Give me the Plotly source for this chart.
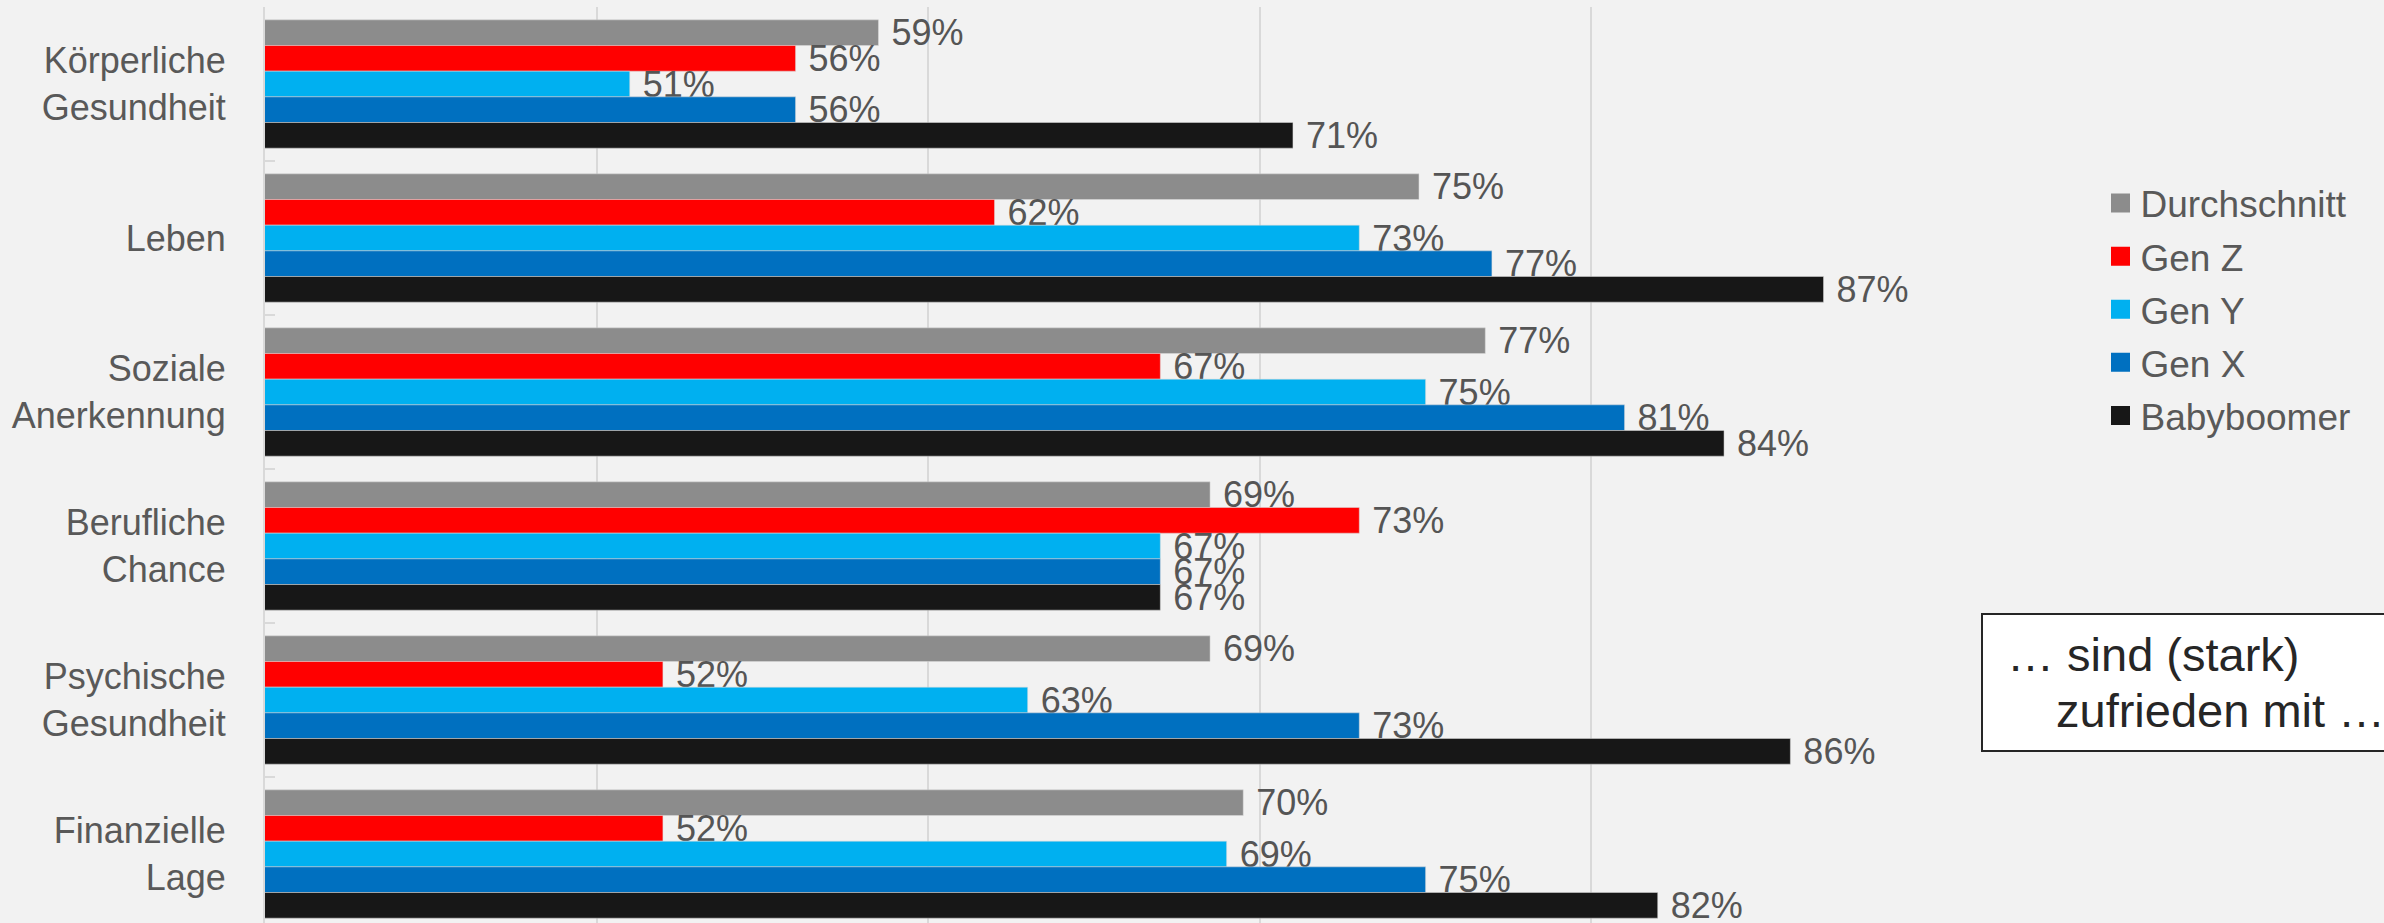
import plotly.graph_objects as go

categories = ["Körperliche<br>Gesundheit", "Leben", "Soziale<br>Anerkennung",
              "Berufliche<br>Chance", "Psychische<br>Gesundheit", "Finanzielle<br>Lage"]
series_names = ["Durchschnitt", "Gen Z", "Gen Y", "Gen X", "Babyboomer"]
durchschnitt = [58.5, 74.8, 76.8, 68.5, 68.5, 69.5]
gen_z = [56, 62, 67, 73, 52, 52]
gen_y = [51, 73, 75, 67, 63, 69]
gen_x = [56, 77, 81, 67, 73, 75]
babyboomer = [71, 87, 84, 67, 86, 82]
colors = ["#8c8c8c", "#ff0000", "#00b0f0", "#0070c0", "#171717"]
series_values = [durchschnitt, gen_z, gen_y, gen_x, babyboomer]

W, H = 2384, 923
L, R, T, B = 265, W - 1923, 7, 0
pw, ph = W - L - R, H - T - B

def px_x(x):
    return (x - L) / pw

def px_y(y):
    return (H - B - y) / ph

fig = go.Figure()
for name, vals, col in zip(series_names, series_values, colors):
    fig.add_trace(go.Bar(
        y=categories, x=vals, orientation="h", name=name,
        marker=dict(color=col, line=dict(color="rgba(220,220,220,0.5)", width=1)),
        text=["\u00a0" + f"{int(v + 0.5)}%" for v in vals],
        textposition="outside", constraintext="none", cliponaxis=False,
        textfont=dict(family="Liberation Sans, Arial, sans-serif", size=36, color="#555555"),
        showlegend=False, hoverinfo="skip",
    ))
# legend entries
for i, (name, col) in enumerate(zip(series_names, colors)):
    fig.add_trace(go.Scatter(
        x=[None], y=[None], mode="markers", name=name, legendgroup=f"g{i}",
        marker=dict(symbol="square", size=16, color=col, line=dict(color=col, width=3)),
        showlegend=True,
    ))

fig.update_layout(
    width=W, height=H,
    margin=dict(l=L, r=R, t=T, b=B, pad=0),
    paper_bgcolor="#f2f2f2", plot_bgcolor="#f2f2f2",
    barmode="group", bargap=1/6, bargroupgap=0,
    font=dict(family="Liberation Sans, Arial, sans-serif", color="#595959"),
    legend=dict(
        x=px_x(2100.5), y=px_y(172.5), xanchor="left", yanchor="top",
        font=dict(size=37, color="#595959"), bgcolor="rgba(0,0,0,0)",
        tracegroupgap=2, itemsizing="trace",
    ),
    xaxis=dict(
        range=[40, 90], showgrid=True, gridcolor="#d9d9d9", gridwidth=2,
        dtick=10, tick0=40, showticklabels=False, zeroline=False, showline=False,
        fixedrange=True,
    ),
    yaxis=dict(
        categoryorder="array", categoryarray=categories,
        range=[-0.5 + ph / 154.0, -0.5],
        showline=True, linecolor="#d9d9d9", linewidth=2,
        ticks="inside", tickson="boundaries", ticklen=10, tickwidth=2, tickcolor="#d9d9d9",
        tickfont=dict(size=36, color="#595959"), ticklabelstandoff=30,
        showgrid=False, zeroline=False, fixedrange=True,
    ),
    shapes=[dict(
        type="rect", xref="paper", yref="paper",
        x0=px_x(1982), x1=px_x(2440), y0=px_y(751), y1=px_y(614),
        fillcolor="#ffffff", line=dict(color="#262626", width=2), layer="above",
    )],
    annotations=[
        dict(xref="paper", yref="paper", x=px_x(2006), y=px_y(654), xanchor="left", yanchor="middle",
             text="… sind (stark)", showarrow=False, borderpad=0,
             font=dict(family="Liberation Sans, Arial, sans-serif", size=47, color="#262626")),
        dict(xref="paper", yref="paper", x=px_x(2055), y=px_y(710), xanchor="left", yanchor="middle",
             text="zufrieden mit …", showarrow=False, borderpad=0,
             font=dict(family="Liberation Sans, Arial, sans-serif", size=47, color="#262626")),
    ],
)

fig.write_html("out.html", include_plotlyjs=True, config={"displayModeBar": False})
